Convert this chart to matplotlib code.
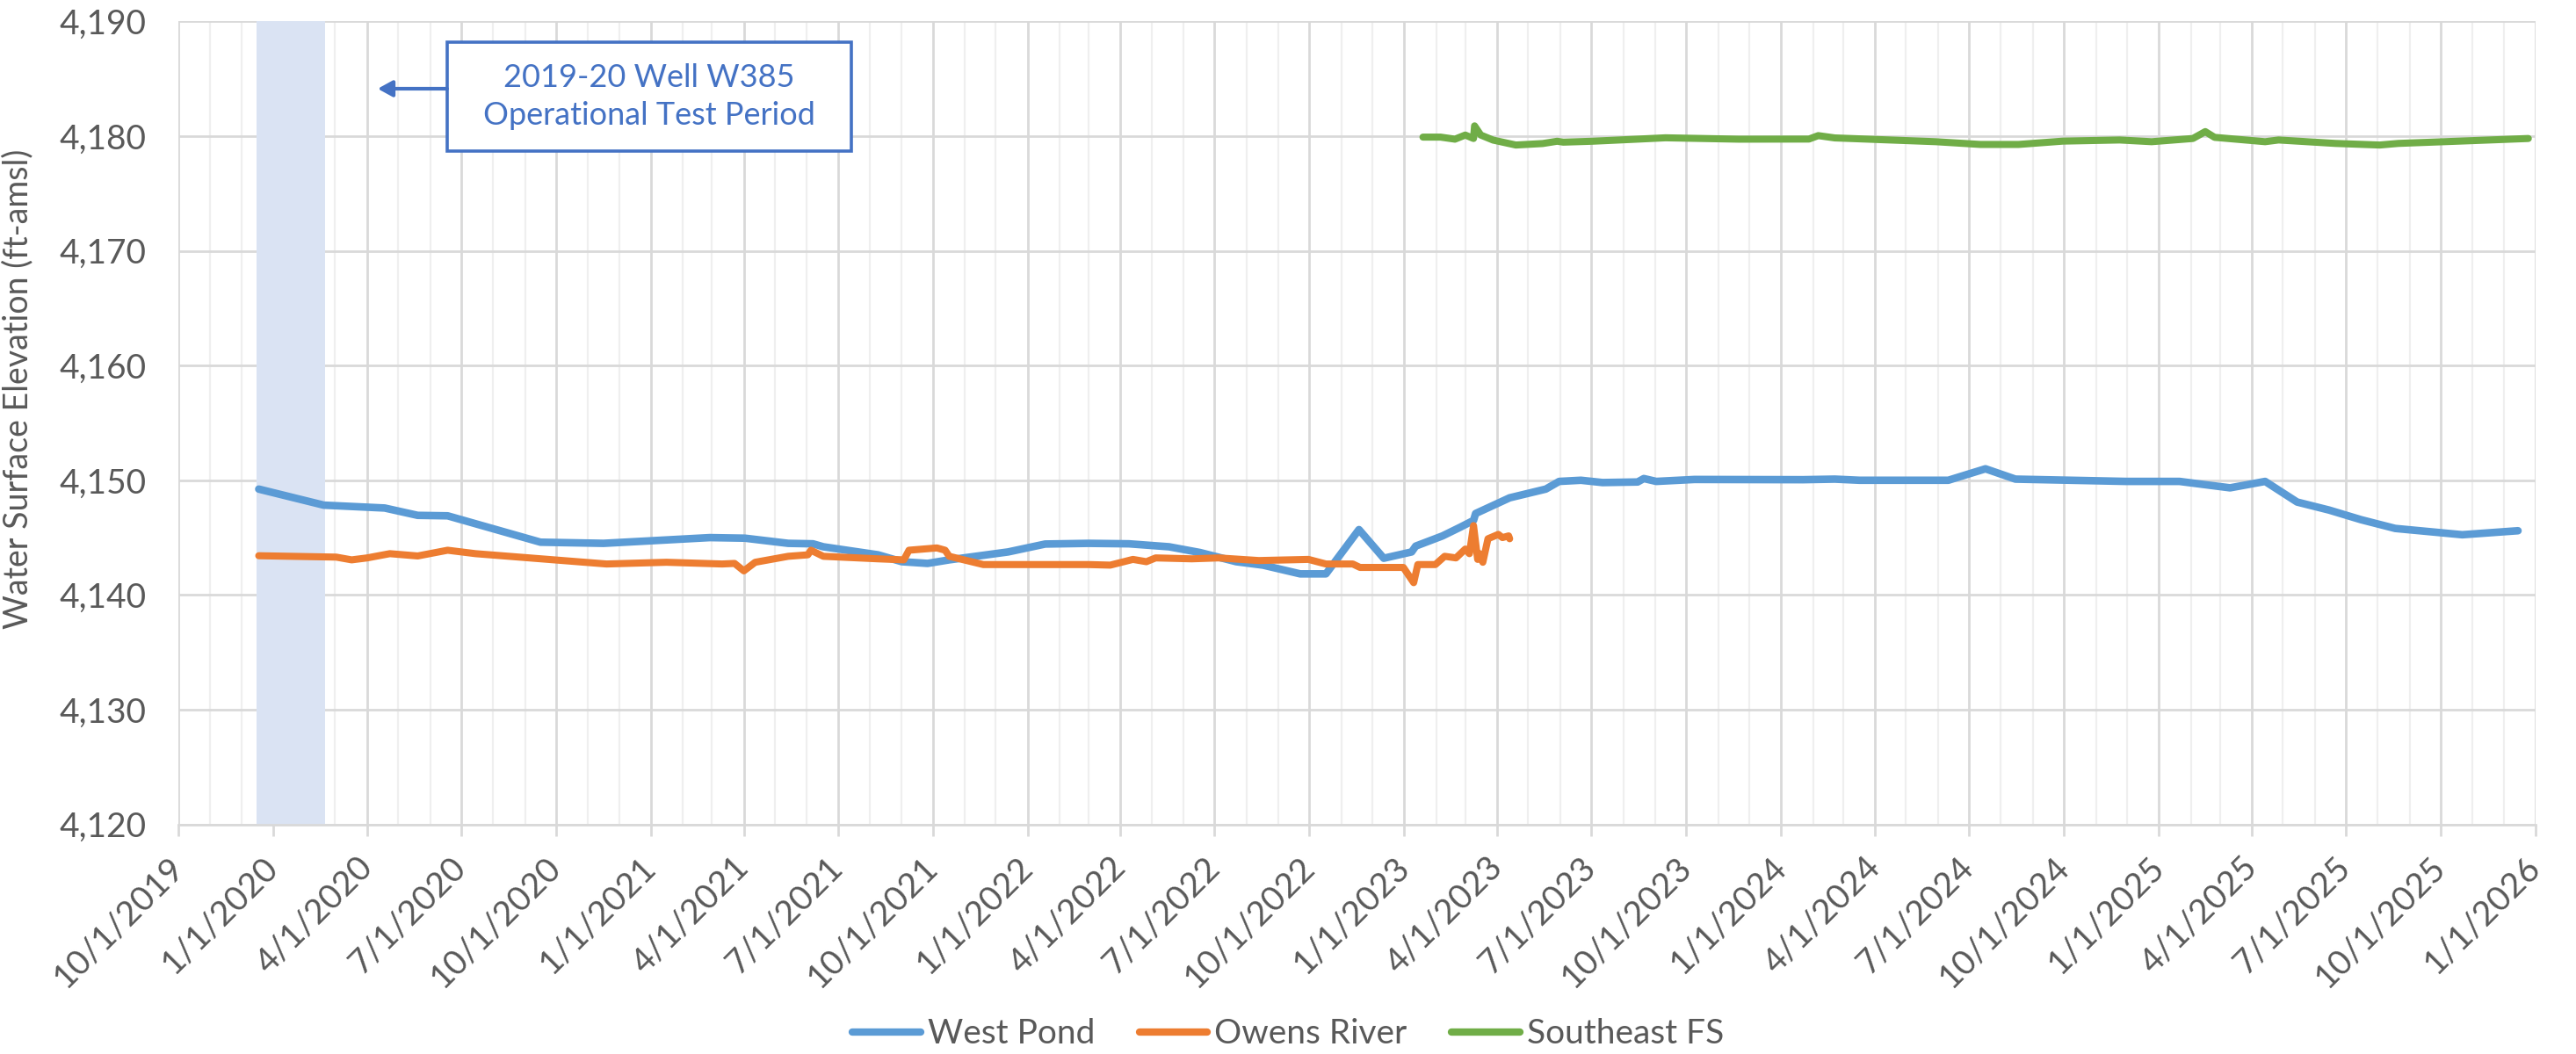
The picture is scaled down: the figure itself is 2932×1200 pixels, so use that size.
import pandas as pd
import matplotlib
matplotlib.use("Agg")
import matplotlib.pyplot as plt
import matplotlib.dates as mdates
from matplotlib.ticker import FuncFormatter, MultipleLocator
from matplotlib.patches import Rectangle

plt.rcParams['font.family'] = ['Lato', 'DejaVu Sans']

# West Pond
wp_dates = ["2019-12-18", "2020-02-19", "2020-04-18", "2020-05-20", "2020-06-18",
            "2020-09-16", "2020-11-16", "2021-02-27", "2021-04-02", "2021-05-14",
            "2021-06-07", "2021-06-17", "2021-08-09", "2021-09-01", "2021-09-26",
            "2021-10-17", "2021-12-13", "2022-01-18", "2022-03-01", "2022-04-09",
            "2022-05-18", "2022-06-17", "2022-07-22", "2022-08-17", "2022-09-22",
            "2022-10-17", "2022-11-18", "2022-12-12", "2023-01-08", "2023-01-12",
            "2023-02-07", "2023-02-24", "2023-03-09", "2023-03-11", "2023-04-13",
            "2023-05-18", "2023-05-31", "2023-06-21", "2023-07-12", "2023-08-15",
            "2023-08-21", "2023-09-02", "2023-10-09", "2024-01-22", "2024-02-22",
            "2024-03-17", "2024-06-11", "2024-07-17", "2024-08-15", "2024-11-30",
            "2025-01-21", "2025-03-11", "2025-04-14", "2025-05-15", "2025-06-15",
            "2025-07-16", "2025-08-18", "2025-10-22", "2025-12-15"]
wp_elev = [4149.23, 4147.83, 4147.58, 4146.94, 4146.90,
           4144.60, 4144.50, 4145.00, 4144.95, 4144.50,
           4144.46, 4144.20, 4143.50, 4142.90, 4142.75,
           4143.06, 4143.75, 4144.44, 4144.50, 4144.46,
           4144.20, 4143.70, 4142.90, 4142.60, 4141.84,
           4141.84, 4145.70, 4143.20, 4143.75, 4144.26,
           4145.15, 4145.90, 4146.50, 4147.10, 4148.47,
           4149.23, 4149.90, 4150.00, 4149.80, 4149.85,
           4150.15, 4149.90, 4150.07, 4150.05, 4150.10,
           4150.00, 4150.00, 4151.00, 4150.10, 4149.90,
           4149.90, 4149.34, 4149.90, 4148.10, 4147.40,
           4146.56, 4145.80, 4145.25, 4145.60]

# Owens River
ow_dates = ["2019-12-18", "2020-03-02", "2020-03-17", "2020-04-01", "2020-04-23",
            "2020-05-20", "2020-06-18", "2020-07-15", "2020-11-19", "2021-01-16",
            "2021-03-11", "2021-03-23", "2021-04-01", "2021-04-12", "2021-05-14",
            "2021-06-02", "2021-06-05", "2021-06-17", "2021-08-09", "2021-09-03",
            "2021-09-08", "2021-10-05", "2021-10-13", "2021-10-17", "2021-11-19",
            "2021-12-18", "2022-03-01", "2022-03-22", "2022-04-13", "2022-04-26",
            "2022-05-05", "2022-06-09", "2022-07-05", "2022-08-13", "2022-09-30",
            "2022-10-17", "2022-11-12", "2022-11-19", "2022-12-31", "2023-01-10",
            "2023-01-14", "2023-01-31", "2023-02-09", "2023-02-20", "2023-03-01",
            "2023-03-05", "2023-03-09", "2023-03-13", "2023-03-15", "2023-03-18",
            "2023-03-23", "2023-04-02", "2023-04-06", "2023-04-12", "2023-04-13"]
ow_elev = [4143.42, 4143.30, 4143.06, 4143.23, 4143.60,
           4143.40, 4143.90, 4143.60, 4142.70, 4142.85,
           4142.70, 4142.75, 4142.10, 4142.85, 4143.37,
           4143.50, 4143.90, 4143.37, 4143.15, 4143.06,
           4143.90, 4144.10, 4143.90, 4143.37, 4142.65,
           4142.65, 4142.65, 4142.60, 4143.10, 4142.90,
           4143.23, 4143.15, 4143.23, 4143.00, 4143.10,
           4142.70, 4142.70, 4142.40, 4142.40, 4141.07,
           4142.65, 4142.65, 4143.37, 4143.23, 4144.00,
           4143.60, 4146.05, 4143.10, 4143.60, 4142.85,
           4144.90, 4145.28, 4145.00, 4145.15, 4144.90]

# Southeast FS
se_dates = ["2023-01-19", "2023-02-05", "2023-02-19", "2023-03-01", "2023-03-09",
            "2023-03-10", "2023-03-16", "2023-03-28", "2023-04-19", "2023-05-15",
            "2023-05-29", "2023-06-04", "2023-07-02", "2023-08-14", "2023-09-11",
            "2023-11-21", "2024-01-28", "2024-02-06", "2024-02-22", "2024-05-30",
            "2024-07-12", "2024-08-18", "2024-09-30", "2024-11-24", "2024-12-25",
            "2025-02-03", "2025-02-15", "2025-02-24", "2025-04-14", "2025-04-27",
            "2025-06-21", "2025-08-03", "2025-08-21", "2025-10-28", "2025-12-25"]
se_elev = [4179.92, 4179.92, 4179.74, 4180.10, 4179.80,
           4180.90, 4180.10, 4179.66, 4179.23, 4179.36,
           4179.56, 4179.48, 4179.56, 4179.74, 4179.86,
           4179.74, 4179.75, 4180.05, 4179.85, 4179.52,
           4179.28, 4179.28, 4179.57, 4179.67, 4179.52,
           4179.80, 4180.40, 4179.90, 4179.52, 4179.67,
           4179.37, 4179.23, 4179.37, 4179.60, 4179.80]

test_start, test_end = "2019-12-16", "2020-02-20"

grey = '#595959'
fig = plt.figure(figsize=(29.32, 12), dpi=100)
ax = fig.add_axes([0.0692, 0.2179, 0.9151, 0.7617])

ax.axvspan(pd.Timestamp(test_start), pd.Timestamp(test_end), color='#DAE3F3', zorder=1, lw=0)

ax.plot(pd.to_datetime(wp_dates), wp_elev, color='#5B9BD5', lw=6.2, label='West Pond',
        solid_capstyle='round', solid_joinstyle='round', zorder=4)
ax.plot(pd.to_datetime(ow_dates), ow_elev, color='#ED7D31', lw=5.8, label='Owens River',
        solid_capstyle='round', solid_joinstyle='round', zorder=5)
ax.plot(pd.to_datetime(se_dates), se_elev, color='#70AD47', lw=5.8, label='Southeast FS',
        solid_capstyle='round', solid_joinstyle='round', zorder=4)

ax.set_xlim(pd.Timestamp("2019-10-01"), pd.Timestamp("2026-01-01"))
ax.set_ylim(4120, 4190)
ax.yaxis.set_major_locator(MultipleLocator(10))
ax.yaxis.set_major_formatter(FuncFormatter(lambda v, p: f"{v:,.0f}"))
ax.xaxis.set_major_locator(mdates.MonthLocator(bymonth=[1, 4, 7, 10]))
ax.xaxis.set_minor_locator(mdates.MonthLocator())

def fmt_date(v, p):
    d = mdates.num2date(v)
    return f"{d.month}/{d.day}/{d.year}"

ax.xaxis.set_major_formatter(FuncFormatter(fmt_date))

ax.grid(which='major', color='#D9D9D9', lw=2.0, zorder=0)
ax.grid(which='minor', axis='x', color='#EFEFEF', lw=1.6, zorder=0)
ax.set_axisbelow(True)
for s in ['left', 'right', 'top']:
    ax.spines[s].set_visible(False)
ax.spines['bottom'].set_color('#D9D9D9')
ax.spines['bottom'].set_linewidth(2.0)

ax.tick_params(axis='y', length=0, pad=26, labelsize=28, labelcolor=grey)
ax.tick_params(axis='x', which='major', length=9, width=2.0, color='#D9D9D9',
               pad=22, labelsize=28, labelcolor=grey)
ax.tick_params(axis='x', which='minor', length=0)
for lab in ax.get_xticklabels():
    lab.set_rotation(45)
    lab.set_ha('right')
    lab.set_va('center')
    lab.set_rotation_mode('anchor')

ax.set_ylabel('Water Surface Elevation (ft-amsl)', fontsize=27, color=grey)
ax.yaxis.set_label_coords(-0.0615, 0.542)

# annotation box and arrow
ax.add_patch(Rectangle((0.114, 0.8386), 0.1715, 0.1357, transform=ax.transAxes,
                       facecolor='white', edgecolor='#4472C4', lw=2.6, zorder=6))
ax.text(0.1998, 0.9064, '2019-20 Well W385\nOperational Test Period', transform=ax.transAxes,
        ha='center', va='center', fontsize=26, color='#4472C4', linespacing=1.35, zorder=7)
ax.annotate('', xy=(0.0846, 0.9163), xytext=(0.114, 0.9163), xycoords='axes fraction',
            arrowprops=dict(arrowstyle='-|>,head_length=1.0,head_width=0.55',
                            color='#4472C4', lw=3, shrinkA=0, shrinkB=0), zorder=7)

leg = fig.legend(loc='center', bbox_to_anchor=(0.5, 0.019), ncol=3, frameon=False,
                 fontsize=28, labelcolor=grey, handlelength=2.0, handletextpad=0.2,
                 columnspacing=1.3)
for h in leg.get_lines():
    h.set_linewidth(6)
    h.set_solid_capstyle('round')

fig.savefig('out.png', dpi=100)
